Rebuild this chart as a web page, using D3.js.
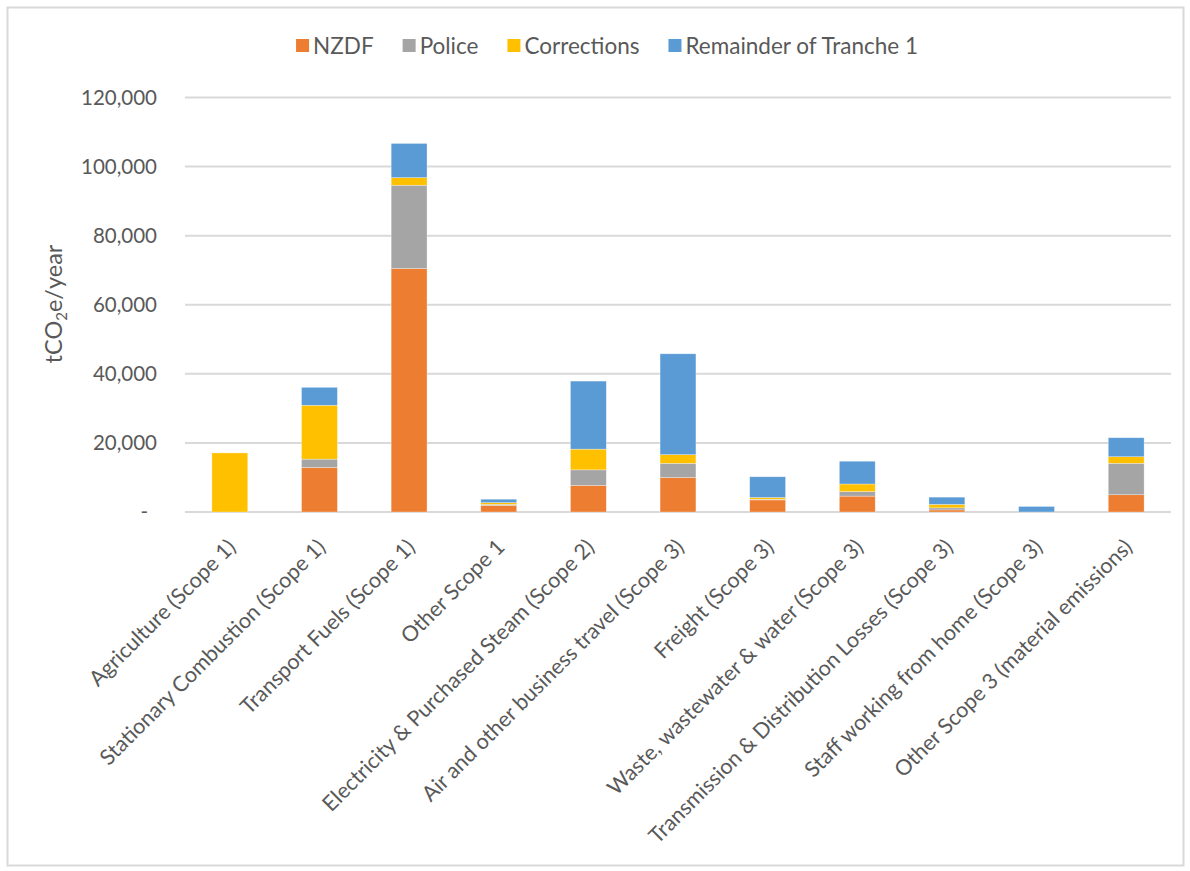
<!DOCTYPE html>
<html>
<head>
<meta charset="utf-8">
<script src="https://cdn.jsdelivr.net/npm/d3@7"></script>
<style>
  html, body { margin: 0; padding: 0; background: #fff; }
  svg text { font-family: Lato, "Open Sans", sans-serif; fill: #595959; }
</style>
</head>
<body>
<svg id="chart" width="1190" height="871"></svg>
<script>
const categories = [
  'Agriculture (Scope 1)',
  'Stationary Combustion (Scope 1)',
  'Transport Fuels (Scope 1)',
  'Other Scope 1',
  'Electricity & Purchased Steam (Scope 2)',
  'Air and other business travel (Scope 3)',
  'Freight (Scope 3)',
  'Waste, wastewater & water (Scope 3)',
  'Transmission & Distribution Losses (Scope 3)',
  'Staff working from home (Scope 3)',
  'Other Scope 3 (material emissions)'
];
const seriesNames = ['NZDF', 'Police', 'Corrections', 'Remainder of Tranche 1'];
const nzdf = [0, 12900, 70500, 1900, 7700, 10000, 3500, 4600, 600, 0, 5000];
const police = [0, 2400, 24100, 300, 4500, 4100, 200, 1300, 600, 0, 9100];
const corrections = [17100, 15600, 2200, 500, 6000, 2500, 500, 2200, 1000, 0, 1900];
const remainder = [0, 5200, 9900, 1000, 19700, 29200, 6000, 6600, 2100, 1600, 5500];
const yTicks = [0, 20000, 40000, 60000, 80000, 100000, 120000];

const colors = ['#ED7D31', '#A5A5A5', '#FFC000', '#5B9BD5'];
const values = [nzdf, police, corrections, remainder];

const rows = categories.map((c, i) => {
  const r = { category: c };
  seriesNames.forEach((s, k) => { r[s] = values[k][i]; });
  return r;
});

const svg = d3.select('#chart');
const plotLeft = 185, plotRight = 1171, plotTop = 97.5, plotBottom = 512;

// outer frame
svg.append('rect')
  .attr('x', 7.5).attr('y', 7.5)
  .attr('width', 1176).attr('height', 858)
  .attr('fill', 'none')
  .attr('stroke', '#d9d9d9')
  .attr('stroke-width', 2);

const x = d3.scaleBand()
  .domain(categories)
  .range([plotLeft, plotRight])
  .paddingInner(0.6)
  .paddingOuter(0.3);

const y = d3.scaleLinear()
  .domain([0, 120000])
  .range([plotBottom, plotTop]);

// gridlines
svg.append('g')
  .selectAll('line')
  .data(yTicks)
  .enter().append('line')
  .attr('x1', plotLeft).attr('x2', plotRight)
  .attr('y1', d => y(d)).attr('y2', d => y(d))
  .attr('stroke', '#d9d9d9')
  .attr('stroke-width', 2);

// y axis labels
const yAxis = svg.append('g')
  .attr('transform', `translate(${plotLeft - 28},0)`)
  .call(d3.axisLeft(y).tickValues(yTicks).tickSize(0).tickPadding(0)
    .tickFormat(d => d === 0 ? '-' : d3.format(',')(d)));
yAxis.select('.domain').remove();
yAxis.selectAll('text')
  .attr('font-size', 20.5)
  .attr('font-family', 'Lato, sans-serif')
  .attr('fill', '#595959')
  .attr('dx', d => d === 0 ? -9 : 0);

// stacked bars
const stack = d3.stack().keys(seriesNames);
const layers = stack(rows);

svg.append('g')
  .selectAll('g')
  .data(layers)
  .enter().append('g')
  .attr('fill', (d, i) => colors[i])
  .selectAll('rect')
  .data(d => d)
  .enter().append('rect')
  .attr('x', d => x(d.data.category))
  .attr('width', x.bandwidth())
  .attr('y', d => y(d[1]))
  .attr('height', d => y(d[0]) - y(d[1]))
  .attr('stroke', '#fff')
  .attr('stroke-opacity', 0.5)
  .attr('stroke-width', 0.6);

// category labels
svg.append('g')
  .selectAll('text')
  .data(categories)
  .enter().append('text')
  .attr('transform', d => `translate(${x(d) + x.bandwidth() / 2 + 2},${plotBottom + 31}) rotate(-45)`)
  .attr('text-anchor', 'end')
  .attr('dy', '0.35em')
  .attr('font-size', 21.5)
  .text(d => d);

// y axis title
const title = svg.append('text')
  .attr('transform', 'translate(62,304) rotate(-90)')
  .attr('text-anchor', 'middle')
  .attr('font-size', 23.5);
title.append('tspan').text('tCO');
title.append('tspan').attr('font-size', 15).attr('dy', 5).text('2');
title.append('tspan').attr('dy', -5).text('e/year');

// legend
const legendGap = 29;
const legend = svg.append('g');
let lx = 0;
seriesNames.forEach((s, i) => {
  const item = legend.append('g').attr('transform', `translate(${lx},0)`);
  item.append('rect')
    .attr('x', 0).attr('y', -7)
    .attr('width', 13).attr('height', 13)
    .attr('fill', colors[i]);
  const t = item.append('text')
    .attr('x', 17)
    .attr('dy', '0.35em')
    .attr('font-size', 22.5)
    .text(s);
  lx += 17 + t.node().getComputedTextLength() + legendGap;
});
lx -= legendGap;
legend.attr('transform', `translate(${607 - lx / 2},46)`);
</script>
</body>
</html>
